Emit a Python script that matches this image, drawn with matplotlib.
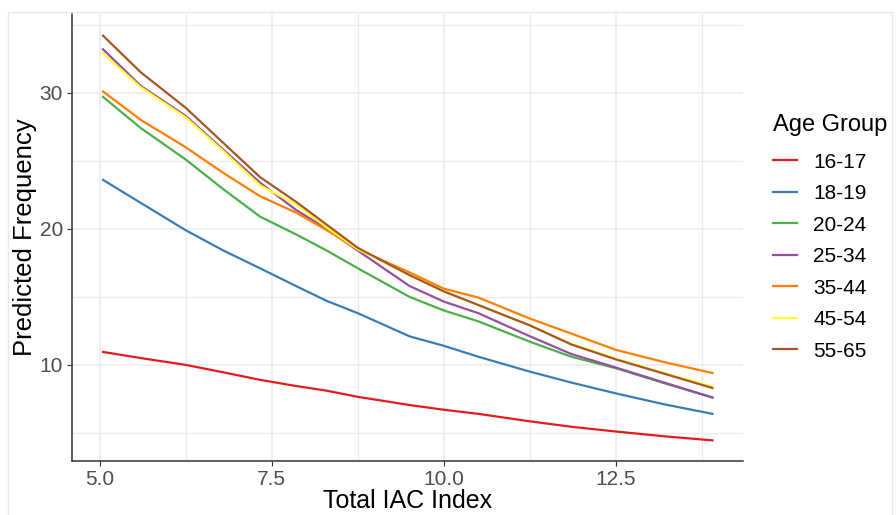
import matplotlib
matplotlib.use('Agg')
import matplotlib.pyplot as plt
from matplotlib.ticker import MultipleLocator
from matplotlib.patches import Rectangle

plt.rcParams['font.family'] = ['Liberation Sans', 'DejaVu Sans']

# values
iac = [5.05, 5.6, 6.25, 6.8, 7.33, 7.85, 8.3, 8.75, 9.5, 10.0, 10.5, 11.25, 11.85, 12.5, 13.2, 13.9]

age_groups = ['16-17', '18-19', '20-24', '25-34', '35-44', '45-54', '55-65']

f_16_17 = [10.95, 10.5, 10.0, 9.45, 8.9, 8.45, 8.1, 7.65, 7.05, 6.7, 6.4, 5.85, 5.45, 5.1, 4.75, 4.45]
f_18_19 = [23.6, 21.9, 19.9, 18.4, 17.1, 15.8, 14.7, 13.8, 12.1, 11.4, 10.6, 9.5, 8.7, 7.9, 7.1, 6.4]
f_20_24 = [29.7, 27.4, 25.1, 22.9, 20.9, 19.6, 18.4, 17.1, 15.0, 14.0, 13.2, 11.7, 10.6, 9.75, 8.65, 7.6]
f_25_34 = [33.2, 30.5, 28.3, 25.8, 23.4, 21.4, 20.0, 18.4, 15.8, 14.65, 13.8, 12.1, 10.8, 9.8, 8.7, 7.6]
f_35_44 = [30.1, 28.0, 26.0, 24.1, 22.4, 21.2, 19.9, 18.5, 16.8, 15.6, 14.95, 13.4, 12.3, 11.1, 10.2, 9.4]
f_45_54 = [32.9, 30.4, 28.2, 25.7, 23.2, 21.8, 20.1, 18.5, 16.6, 15.4, 14.4, 12.9, 11.55, 10.45, 9.4, 8.4]
f_55_65 = [34.2, 31.5, 28.9, 26.3, 23.8, 22.0, 20.3, 18.6, 16.6, 15.4, 14.4, 12.9, 11.5, 10.4, 9.35, 8.3]

series = [f_16_17, f_18_19, f_20_24, f_25_34, f_35_44, f_45_54, f_55_65]
colors = ['#E41A1C', '#377EB8', '#4DAF4A', '#984EA3', '#FF7F00', '#FFFF33', '#A65628']

fig = plt.figure(figsize=(8.96, 5.15), dpi=100)
ax = fig.add_axes([0.0804, 0.105, 0.7486, 0.868])

# faint screenshot frame
fig.patches.append(Rectangle((8 / 896, -0.01), 0.995 - 8 / 896, 1 - 12 / 515 + 0.01,
                             transform=fig.transFigure, fill=False,
                             edgecolor='#E8E8E8', lw=1.0))

for vals, col, lab in zip(series, colors, age_groups):
    ax.plot(iac, vals, color=col, lw=1.6, label=lab)

ax.set_xlim(4.6, 14.34)
ax.set_ylim(2.94, 35.8)
ax.xaxis.set_minor_locator(MultipleLocator(1.25))
ax.yaxis.set_major_locator(MultipleLocator(10))
ax.yaxis.set_minor_locator(MultipleLocator(5))
ax.set_xticks([5.0, 7.5, 10.0, 12.5])
ax.set_xticklabels(['5.0', '7.5', '10.0', '12.5'])

ax.grid(which='major', color='#EBEBEB', lw=1.1)
ax.grid(which='minor', color='#EBEBEB', lw=0.9)
ax.set_axisbelow(True)
ax.tick_params(which='minor', length=0)
ax.tick_params(which='major', length=3.5, width=0.8, color='#333333',
               labelsize=15, labelcolor='#4D4D4D', pad=3)

for s in ['top', 'right']:
    ax.spines[s].set_visible(False)
for s in ['left', 'bottom']:
    ax.spines[s].set_color('#333333')
    ax.spines[s].set_linewidth(1.1)

ax.set_xlabel('Total IAC Index', fontsize=18, labelpad=0)
ax.set_ylabel('Predicted Frequency', fontsize=18.5, labelpad=2)

leg = ax.legend(title='Age Group', loc='upper left', bbox_to_anchor=(0.853, 0.795),
                bbox_transform=fig.transFigure, frameon=False, fontsize=15,
                title_fontsize=17, handlelength=1.15, handletextpad=0.8,
                labelspacing=0.6, alignment='left', borderaxespad=0)
leg._legend_box.sep = 12

fig.savefig('out.png', dpi=100)
